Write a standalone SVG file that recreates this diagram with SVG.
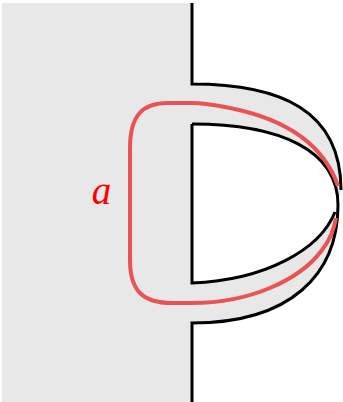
<svg xmlns="http://www.w3.org/2000/svg" width="343" height="402" viewBox="0 0 343 402">
<style>
.band{fill:#e8e8e8;stroke:none}
.edge{fill:none;stroke:#000;stroke-width:3;stroke-linecap:butt}
.loop{fill:none;stroke:#ea5253;stroke-width:4;stroke-linejoin:round}
.lbl{font-family:"Liberation Serif",serif;font-style:italic;font-size:39px;fill:#ff0000}
</style>
<rect x="0" y="0" width="343" height="402" fill="#fff"/>
<g id="surface">
<rect class="band" x="2" y="3" width="190" height="399"/>
<path class="band" d="M192,84 C280,84 341,110 341,190 L338,205 C338,150 280,124 192,124 Z"/>
<path class="band" d="M192,283 C265,280 320,250 335,212 L338,205 C338,275 290,323 192,323 Z"/>
</g>
<g id="edges">
<path class="edge" d="M192,3 L192,84 C280,84 341,110 341,190"/>
<path class="edge" d="M192,124 C280,124 338,150 338,205 C338,275 290,323 192,323 L192,402"/>
<path class="edge" d="M192,124 L192,283 C265,280 320,250 335,212"/>
</g>
<g id="loop-a">
<path class="loop" d="M338,186 C322,140 280,118 230,108 C215,105 205,103 192,103 L168,103 C142,103 130,116 130,148 L130,260 C130,290 142,303 172,303 L192,303 C250,303 300,280 322,250 C330,240 334,230 336,218"/>
<text class="lbl" x="101.5" y="204" text-anchor="middle">a</text>
</g>
</svg>
